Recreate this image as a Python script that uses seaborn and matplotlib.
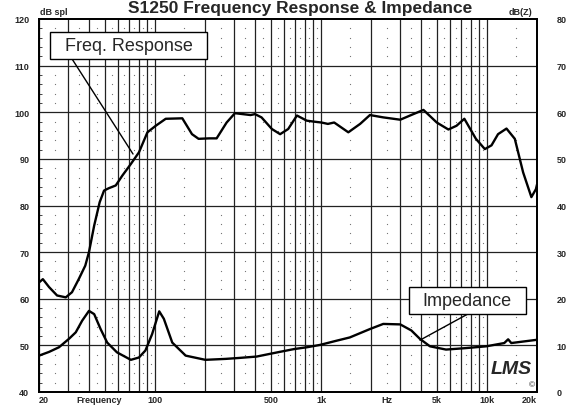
import numpy as np
import pandas as pd
import seaborn as sns
import matplotlib.pyplot as plt
from matplotlib.patches import Rectangle

# frequency response (dB spl)
spl_freq = [20, 21.1, 23, 25.7, 29, 31.6, 34.7, 38, 40, 43, 46.4, 49.3, 52.6, 58, 63.5,
            71.5, 80, 90, 101, 116, 146, 167, 183, 212, 235, 270, 303, 376, 400, 438,
            506, 567, 634, 716, 820, 900, 1005, 1100, 1200, 1460, 1720, 1970, 2370,
            3000, 3600, 4140, 4980, 5850, 6550, 7300, 8570, 9700, 10640, 11650, 13100,
            14700, 16500, 18500, 19700, 20000]
spl_db = [63.5, 64.2, 62.5, 60.7, 60.3, 61.4, 64.2, 67.1, 70, 75.7, 80.7, 83.2, 83.7, 84.3,
          86.4, 88.9, 91.4, 95.7, 97.1, 98.6, 98.7, 95.3, 94.3, 94.4, 94.4, 97.8, 99.8,
          99.4, 99.6, 98.9, 96.4, 95.3, 96.4, 99.3, 98.2, 98.0, 97.8, 97.5, 97.8, 95.7,
          97.5, 99.4, 98.9, 98.4, 99.6, 100.5, 97.8, 96.3, 97.1, 98.6, 94.3, 92.1, 92.9,
          95.3, 96.5, 94.3, 87.1, 81.8, 83.5, 84.5]

# impedance (dB(Z))
imp_freq = [20, 23, 26.4, 30.3, 33.3, 36.4, 40, 43, 47, 51.5, 59, 71.5, 80, 87.5, 96,
            106, 113, 127, 153, 201, 266, 320, 409, 545, 686, 823, 986, 1240, 1490,
            1970, 2370, 3000, 3500, 3940, 4530, 5660, 7370, 9900, 12700, 13400, 14000,
            20000]
imp_db = [7.8, 8.6, 9.6, 11.4, 12.8, 15.3, 17.4, 16.7, 13.5, 10.6, 8.5, 6.9, 7.4, 8.9,
          12.4, 17.3, 15.7, 10.6, 7.8, 6.9, 7.1, 7.3, 7.6, 8.5, 9.2, 9.6, 10.1, 11.0,
          11.7, 13.5, 14.6, 14.5, 13.2, 11.4, 9.8, 9.1, 9.4, 9.8, 10.5, 11.3, 10.5, 11.2]

xtick_pos = [20, 46, 100, 500, 1000, 2500, 5000, 10000, 20000]
xtick_lab = ["20", "Frequency", "100", "500", "1k", "Hz", "5k", "10k", "20k"]
left_ticks = list(range(40, 121, 10))
right_ticks = list(range(0, 81, 10))

sns.set_style("white")
plt.rcParams['font.family'] = ['Liberation Sans', 'DejaVu Sans']
plt.rcParams['lines.solid_joinstyle'] = 'round'

fig = plt.figure(figsize=(5.72, 4.06), dpi=100)
ax = fig.add_axes([39/572, 1 - 393/406, 498/572, 373/406])
ax.set_xscale('log')
ax.set_xlim(20, 20000)
ax.set_ylim(40, 120)

# grid: solid major lines, dotted minor points
major_x = [m * 10**k for k in range(1, 5) for m in range(1, 10) if 20 <= m * 10**k <= 20000]
minor_x = [(m + 0.5) * 10**k for k in range(1, 5) for m in range(1, 10) if 20 < (m + 0.5) * 10**k < 20000]
for f in major_x:
    ax.axvline(f, color='#222222', lw=0.9, zorder=1)
for v in range(50, 120, 10):
    ax.axhline(v, color='#222222', lw=0.9, zorder=1)
minor_y = [v for v in range(42, 120, 2) if v % 10]
gx, gy = np.meshgrid(minor_x, minor_y)
ax.plot(gx.ravel(), gy.ravel(), ls='none', marker='s', ms=0.8, mew=0, color='#777777', zorder=1)

sns.lineplot(data=pd.DataFrame({'f': spl_freq, 'db': spl_db}), x='f', y='db', ax=ax,
             color='black', lw=1.7, estimator=None, sort=False, zorder=3)

ax2 = ax.twinx()
ax2.set_ylim(0, 80)
sns.lineplot(data=pd.DataFrame({'f': imp_freq, 'z': imp_db}), x='f', y='z', ax=ax2,
             color='black', lw=1.7, estimator=None, sort=False, zorder=3)
ax2.set_xlim(20, 20000)

ax.set_xlabel('')
ax.set_ylabel('')
ax2.set_ylabel('')
ax.set_xticks(xtick_pos)
ax.set_xticklabels(xtick_lab, fontsize=6.5, fontweight='bold')
ax.xaxis.set_minor_locator(plt.NullLocator())
labs = ax.get_xticklabels()
labs[0].set_ha('left')
labs[-1].set_ha('right')
ax.set_yticks(left_ticks)
ax.set_yticklabels([str(v) for v in left_ticks], fontsize=6.5, fontweight='bold')
ax.yaxis.set_minor_locator(plt.MultipleLocator(2))
ax.tick_params(axis='x', length=0, pad=2)
ax.tick_params(axis='y', which='major', length=0, pad=7)
ax.tick_params(axis='y', which='minor', direction='in', length=2, width=0.6)
ax2.set_yticks(right_ticks)
ax2.set_yticklabels([str(v) for v in right_ticks], fontsize=6.5, fontweight='bold')
ax2.tick_params(axis='y', length=0, pad=14)
for a in (ax, ax2):
    for s in a.spines.values():
        s.set_color('black')
        s.set_linewidth(1.3)

# annotation boxes and leader lines
ax2.add_patch(Rectangle((0.022, 0.893), 0.315, 0.0724, transform=ax.transAxes,
                        facecolor='white', edgecolor='black', lw=1, zorder=5))
ax2.text(0.18, 0.929, 'Freq. Response', transform=ax.transAxes, fontsize=13,
         ha='center', va='center', zorder=6)
ax2.plot([0.0663, 0.1888], [0.893, 0.638], transform=ax.transAxes, color='black', lw=1, zorder=4)
ax2.add_patch(Rectangle((0.743, 0.209), 0.235, 0.0724, transform=ax.transAxes,
                        facecolor='white', edgecolor='black', lw=1, zorder=5))
ax2.text(0.86, 0.245, 'Impedance', transform=ax.transAxes, fontsize=13,
         ha='center', va='center', zorder=6)
ax2.plot([0.861, 0.765], [0.209, 0.139], transform=ax.transAxes, color='black', lw=1, zorder=4)

ax2.text(0.948, 0.062, 'LMS', transform=ax.transAxes, fontsize=14, fontstyle='italic',
         fontweight='bold', ha='center', va='center', zorder=6)
ax2.text(0.99, 0.019, '\u00a9', transform=ax.transAxes, fontsize=6, ha='center', va='center')

fig.text(40/572, 1 - 15/406, 'dB spl', fontsize=6.5, fontweight='bold', va='baseline')
fig.text(532/572, 1 - 15/406, 'dB(Z)', fontsize=6.5, fontweight='bold', va='baseline', ha='right')
fig.text(300/572, 1 - 13/406, 'S1250 Frequency Response & Impedance', fontsize=12.5,
         fontweight='bold', ha='center', va='baseline')

fig.savefig('out.png', dpi=100)
